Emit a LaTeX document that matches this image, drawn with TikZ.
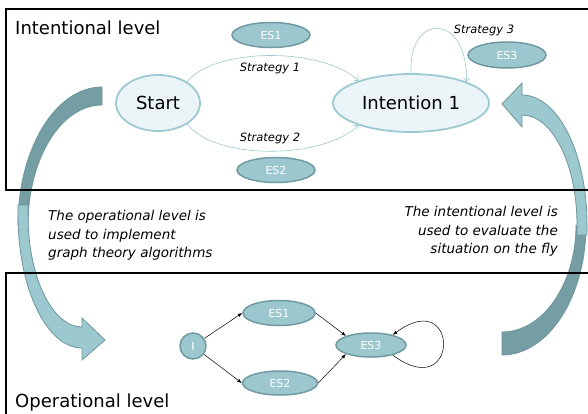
\documentclass[tikz,border=0pt]{standalone}
\usepackage{fontspec}
\setmainfont{DejaVu Sans}
\usetikzlibrary{shapes.geometric,arrows.meta}
\definecolor{esfill}{HTML}{9CC7CF}
\definecolor{esline}{HTML}{6F9AA1}
\definecolor{stfill}{HTML}{EBF4F6}
\definecolor{stline}{HTML}{9DCAD2}
\definecolor{connblue}{HTML}{9CC7CF}
\definecolor{darkarr}{HTML}{749EA4}
\definecolor{lightarr}{HTML}{9CC8D0}
\definecolor{arrline}{HTML}{6E969C}
\begin{document}
\begin{tikzpicture}[x=1pt,y=-1pt,
  esnode/.style={ellipse, fill=esfill, draw=esline, line width=1.5pt, text=white,
    font=\fontsize{11}{13}\selectfont, inner sep=0pt},
  bignode/.style={ellipse, fill=stfill, draw=stline, line width=1.8pt,
    font=\fontsize{18}{21}\selectfont, inner sep=0pt},
  stratlabel/.style={font=\itshape\fontsize{11.5}{13}\selectfont, inner sep=0pt},
  connline/.style={draw=connblue, line width=0.6pt, -{Straight Barb[length=3pt,width=6pt]}},
  opconn/.style={draw=black, line width=0.5pt, -{Latex[length=4.5pt,width=3.5pt]}},
  note/.style={font=\itshape\fontsize{13.5}{16}\selectfont, inner sep=0pt},
  levelbox/.style={draw=black, line width=2pt},
  leveltitle/.style={font=\fontsize{18}{21}\selectfont, inner sep=0pt},
  backband/.style={fill=darkarr, draw=arrline, line width=0.8pt},
  frontband/.style={fill=lightarr, draw=arrline, line width=0.8pt}
]
\useasboundingbox (0,0) rectangle (588,413);
\clip (0,0) rectangle (588,413);

% big curved arrows (left: intentional -> operational)
\path[backband] (102,87) .. controls (55.6,87) and (18,148.8) .. (18,225)
  -- (28,225) .. controls (28,158.7) and (61.1,105) .. (102,105) -- cycle;
\path[frontband] (18,205) -- (18,215) .. controls (18,288.5) and (46.7,348) .. (82,348)
  -- (82,360) -- (105,340) -- (82,318) -- (82,327)
  .. controls (52.2,327) and (28,276.9) .. (28,215) -- (28,205) -- cycle;

% right: operational -> intentional
\path[backband] (586,225) .. controls (586,296.8) and (548.4,355) .. (502,355)
  -- (502,332) .. controls (542.9,332) and (576,284.1) .. (576,225) -- cycle;
\path[frontband] (522,95) .. controls (557.9,95) and (587,153.2) .. (587,225)
  -- (587,235) -- (577,235) -- (577,225)
  .. controls (577,164.2) and (552.4,115) .. (522,115)
  -- (522,127) -- (502,104) -- (522,83) -- cycle;

% level boxes
\draw[levelbox] (6,9) rectangle (592,190);
\draw[levelbox] (6,273) rectangle (592,420);

\node[leveltitle, anchor=base west] (tlev) at (15,34) {Intentional level};
\node[leveltitle, anchor=base west] (olev) at (15,407) {Operational level};

% intentional level graph
\node[esnode, minimum width=78pt, minimum height=25pt] (tes1) at (271,35) {ES1};
\node[bignode, minimum width=84pt, minimum height=56pt] (st) at (158,103) {Start};
\node[bignode, minimum width=156pt, minimum height=58pt] (in) at (411,103) {Intention 1};
\node[esnode, minimum width=78pt, minimum height=25pt] (tes2) at (276,170) {ES2};
\node[esnode, minimum width=78pt, minimum height=26pt] (tes3) at (507,55) {ES3};

\draw[connline] (st.36) .. controls (215,47) and (322,47) .. (in.157);
\draw[connline] (st.-36) .. controls (215,160) and (322,160) .. (in.-157);
\draw[connline] (in.90) .. controls (408,12) and (468,12) .. (in.21);

\node[stratlabel] (s1) at (270,68) {Strategy 1};
\node[stratlabel] (s2) at (270,138) {Strategy 2};
\node[stratlabel] (s3) at (484,30) {Strategy 3};

% notes
\node[note, anchor=base west] (ln1) at (48,220) {The operational level is};
\node[note, anchor=base west] (ln2) at (48,239) {used to implement};
\node[note, anchor=base west] (ln3) at (48,257) {graph theory algorithms};
\node[note, anchor=base east] (rn1) at (558,216) {The intentional level is};
\node[note, anchor=base east] (rn2) at (558,235) {used to evaluate the};
\node[note, anchor=base east] (rn3) at (558,253) {situation on the fly};

% operational level graph
\node[esnode, circle, minimum size=26pt] (oi) at (193,346) {I};
\node[esnode, minimum width=72pt, minimum height=25pt] (oes1) at (279,313) {ES1};
\node[esnode, minimum width=75pt, minimum height=24pt] (oes2) at (280,383) {ES2};
\node[esnode, minimum width=70pt, minimum height=24pt] (oes3) at (371,345) {ES3};

\draw[opconn] (oi) -- (oes1.west);
\draw[opconn] (oi) -- (oes2.west);
\draw[opconn] (oes1.east) -- (oes3.160);
\draw[opconn] (oes2.east) -- (oes3.200);
\draw[opconn] (oes3.-25) .. controls (460,405) and (460,285) .. (oes3.25);
\end{tikzpicture}
\end{document}
